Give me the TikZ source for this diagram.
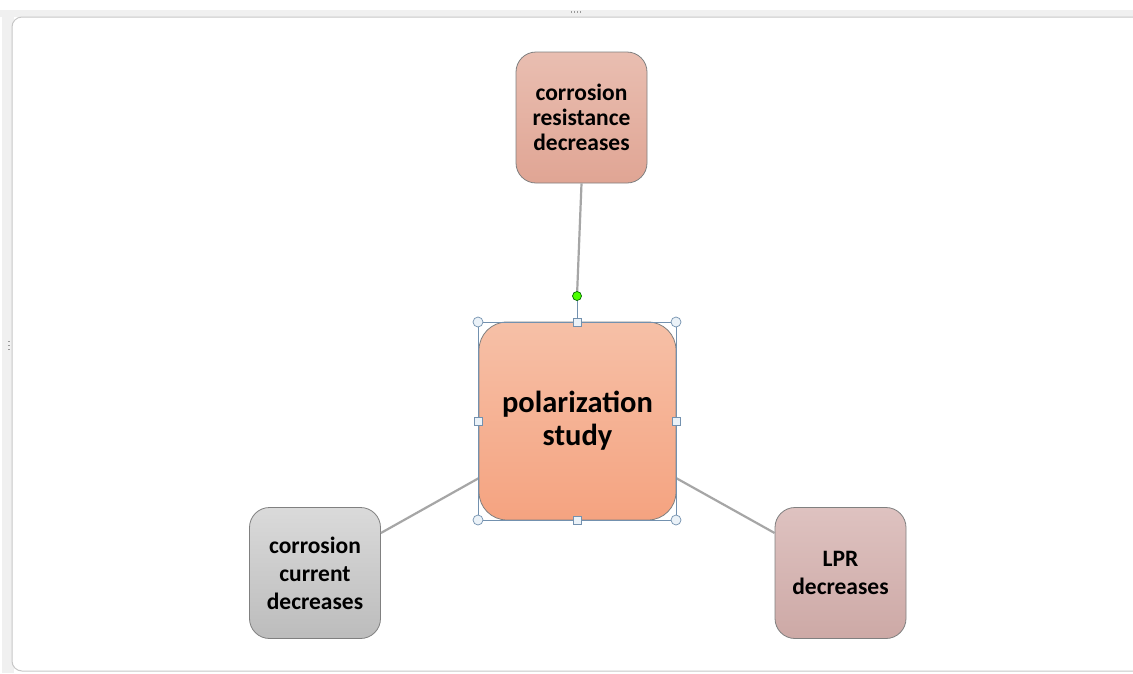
\documentclass[tikz,border=0pt]{standalone}
\usepackage{fontspec}
\setmainfont{Carlito}
\begin{document}
\begin{tikzpicture}[x=1pt,y=-1pt,
  box/.style={draw=black!50, line width=0.8pt, rounded corners=20pt, align=center, font=\bfseries\fontsize{23.5}{25}\selectfont, inner sep=0pt, minimum width=131pt, minimum height=131pt},
  lowbox/.style={box, font=\bfseries\fontsize{23.5}{28}\selectfont},
  conn/.style={draw=black!35, line width=2.2pt},
  selc/.style={draw={rgb,255:red,115;green,145;blue,175}, line width=0.7pt},
  hcirc/.style={circle, selc, fill={rgb,255:red,235;green,242;blue,248}, minimum size=10pt, inner sep=0pt},
  hsq/.style={rectangle, selc, fill={rgb,255:red,235;green,242;blue,248}, minimum size=8pt, inner sep=0pt}]
\useasboundingbox (0,0) rectangle (1133,673);
% window frame
\fill[black!6] (0,10) rectangle (1133,17);
\fill[black!6] (2,10) rectangle (14,673);
\filldraw[fill=white, draw=black!22, line width=1pt, rounded corners=10pt] (12,17) rectangle (1150,671);
\foreach \i in {0,1,2,3} \fill[black!40] (571+\i*3,11) rectangle (572+\i*3,13);
\foreach \i in {0,1,2} \fill[black!40] (8,341+\i*4) rectangle (10,342+\i*4);
% nodes
\node[box, top color={rgb,255:red,233;green,190;blue,177}, bottom color={rgb,255:red,224;green,165;blue,148}] (top) at (581.5,117.5) {corrosion\\resistance\\decreases};
\node[lowbox, top color={rgb,255:red,218;green,218;blue,218}, bottom color={rgb,255:red,188;green,188;blue,188}] (left) at (315,573) {corrosion\\current\\decreases};
\node[lowbox, top color={rgb,255:red,222;green,194;blue,192}, bottom color={rgb,255:red,205;green,169;blue,166}] (right) at (840.5,573) {LPR\\decreases};
\node[box, rounded corners=28pt, minimum width=197pt, minimum height=198pt, font=\bfseries\fontsize{30.5}{33}\selectfont, top color={rgb,255:red,246;green,192;blue,167}, bottom color={rgb,255:red,245;green,163;blue,128}] (center) at (577.5,421) {polarization\\study};
% connectors
\coordinate (rot) at (577,296);
\coordinate (lc) at (479,478);
\coordinate (rc) at (676,478);
\draw[conn] (top.south) -- (rot);
\draw[conn] (left.east |- 0,533) -- (lc);
\draw[conn] (rc) -- (right.west |- 0,533);
% selection handles
\draw[selc] (rot) -- (577,322);
\draw[selc] (478,322) rectangle (676,520);
\node[hcirc, fill=green!70!yellow, draw=green!40!black, minimum size=9pt] (g) at (rot) {};
\foreach \p in {(478,322),(676,322),(478,520),(676,520)} \node[hcirc] at \p {};
\foreach \p in {(577,322),(577,520),(478,421),(676,421)} \node[hsq] at \p {};
\end{tikzpicture}
\end{document}
